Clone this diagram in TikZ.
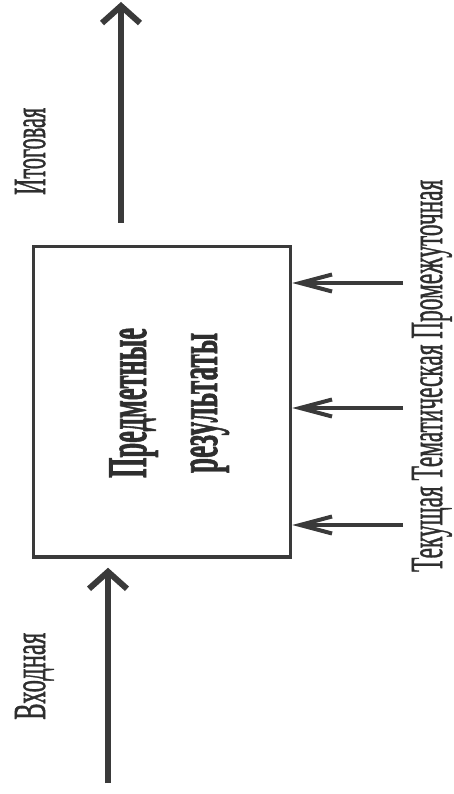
\documentclass[tikz,border=0pt]{standalone}
\usepackage{fontspec}
\setmainfont{Liberation Serif}
\newfontfamily\lblfont[FakeBold=1.2]{Liberation Serif}
\newfontfamily\ttlfont[BoldFeatures={FakeBold=1.5}]{Liberation Serif}
\usetikzlibrary{arrows.meta,calc}
\definecolor{ink}{HTML}{3A3A3A}
\definecolor{txt}{HTML}{2E2E2E}
\begin{document}
\begin{tikzpicture}[x=1pt,y=-1pt,
  blk/.style={draw=ink, line width=3.5pt, minimum width=257pt, minimum height=310.5pt, inner sep=0pt},
  ttl/.style={text=txt, font=\fontsize{56}{56}\ttlfont\bfseries, rotate=90, anchor=base, inner sep=0pt},
  lbl/.style={text=txt, font=\fontsize{46}{46}\lblfont, rotate=90, anchor=base west, inner sep=0pt},
  bigarrow/.style={draw=ink, line width=6pt, -{Straight Barb[length=17pt,width=38pt]}},
  ctlarrow/.style={draw=ink, line width=4pt, -{Straight Barb[length=32pt,width=17pt]}}]
\useasboundingbox (0,0) rectangle (453,794);
\fill[white] (0,0) rectangle (453,794);
% main block
\node[blk] (box) at (162,401.75) {};
\node[ttl] (t1) at (146,403) {\resizebox{150pt}{\height}{Предметные}};
\node[ttl] (t2) at (217,403) {\resizebox{140pt}{\height}{результаты}};
% output
\coordinate (outS) at (121,223);
\coordinate (outE) at (121,2);
\draw[bigarrow] (outS) -- (outE);
\node[lbl] (lOut) at (45,195) {\resizebox{87pt}{\height}{Итоговая}};
% input
\coordinate (inS) at (108,783);
\draw[bigarrow] (inS) -- ($(box.south -| inS)+(0,9)$);
\node[lbl] (lIn) at (45,720) {\resizebox{87pt}{\height}{Входная}};
% controls
\coordinate (c1) at (403,283);
\coordinate (c2) at (403,408);
\coordinate (c3) at (403,525);
\draw[ctlarrow] (c1) -- (box.east |- c1);
\draw[ctlarrow] (c2) -- (box.east |- c2);
\draw[ctlarrow] (c3) -- (box.east |- c3);
\node[lbl] (lCtl) at (442,572) {\resizebox{392pt}{\height}{Текущая Тематическая Промежуточная}};
\end{tikzpicture}
\end{document}
